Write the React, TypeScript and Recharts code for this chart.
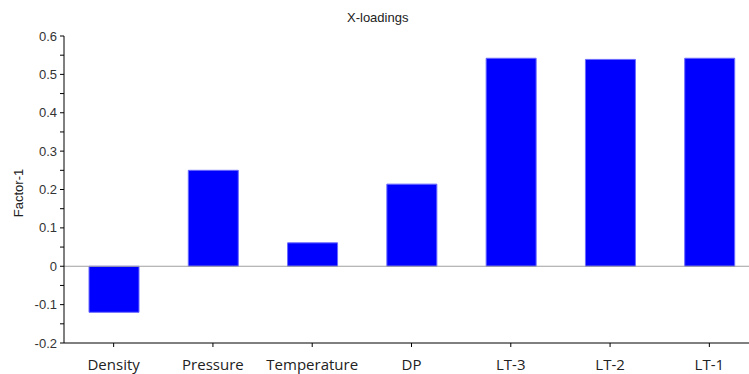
import { Bar, BarChart, ReferenceLine, XAxis, YAxis } from 'recharts'

const categories = ['Density', 'Pressure', 'Temperature', 'DP', 'LT-3', 'LT-2', 'LT-1']
const factor1 = [-0.12, 0.25, 0.061, 0.214, 0.542, 0.539, 0.542]
const yTicks = [-0.2, -0.15, -0.1, -0.05, 0, 0.05, 0.1, 0.15, 0.2, 0.25, 0.3, 0.35, 0.4, 0.45, 0.5, 0.55, 0.6]

const data = categories.map((name, i) => ({ name, value: factor1[i] }))

function formatTick(v: number): string {
  const isMajor = Math.abs(v * 10 - Math.round(v * 10)) < 1e-6
  if (!isMajor) return ''
  if (Math.abs(v) < 1e-9) return '0'
  return v.toFixed(1)
}

export default function App() {
  return (
    <div style={{ position: 'fixed', top: 0, left: 0, width: 749, height: 374, background: '#fff', overflow: 'hidden' }}>
      <style>{'html,body{margin:0;overflow:hidden}'}</style>
      <div
        style={{
          position: 'absolute',
          top: 10,
          left: 347,
          fontFamily: 'Liberation Sans, Arial, sans-serif',
          fontSize: 13,
          color: '#222',
          whiteSpace: 'nowrap',
        }}
      >
        X-loadings
      </div>
      <div
        style={{
          position: 'absolute',
          left: 18,
          top: 193,
          transform: 'translate(-50%, -50%) rotate(-90deg)',
          fontFamily: 'Liberation Sans, Arial, sans-serif',
          fontSize: 13,
          color: '#222',
          whiteSpace: 'nowrap',
        }}
      >
        Factor-1
      </div>
      <BarChart width={759} height={374} data={data} margin={{ top: 36, right: 0, bottom: 0, left: 0 }} barCategoryGap={0}>
        <XAxis
          dataKey="name"
          height={31}
          axisLine={{ stroke: '#000' }}
          tickLine={{ stroke: '#000' }}
          tickSize={4}
          tickMargin={12}
          tick={{ fill: '#222', fontSize: 15, fontFamily: 'Open Sans, sans-serif' }}
          interval={0}
        />
        <YAxis
          domain={[-0.2, 0.6]}
          ticks={yTicks}
          width={64}
          allowDataOverflow
          axisLine={{ stroke: '#000' }}
          tickLine={{ stroke: '#000' }}
          tickSize={4}
          tickMargin={3}
          tickFormatter={formatTick}
          tick={{ fill: '#333', fontSize: 13, fontFamily: 'Liberation Sans, Arial, sans-serif' }}
          interval={0}
        />
        <ReferenceLine y={0} stroke="#a0a0a0" strokeWidth={1} />
        <Bar dataKey="value" fill="#0000ff" stroke="#6a6aff" strokeWidth={1} barSize={50} isAnimationActive={false} />
      </BarChart>
    </div>
  )
}
